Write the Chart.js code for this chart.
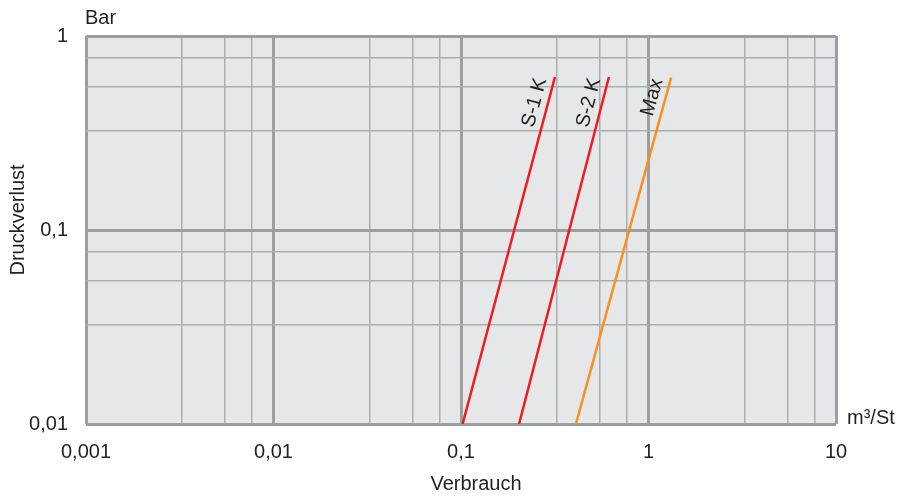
<!DOCTYPE html>
<html lang="de">
<head>
  <meta charset="UTF-8">
  <title>Druckverlust</title>
  <script src="https://cdn.jsdelivr.net/npm/chart.js"></script>
  <style>
    body { margin: 0; padding: 0; background: #fff; }
    #wrap { width: 900px; height: 497px; }
  </style>
</head>
<body>
  <div id="wrap"><canvas id="chart"></canvas></div>
  <script>
    // data (log-log)
    const seriesNames = ['S-1 K', 'S-2 K', 'Max'];
    const flowS1 = [0.102, 0.317];
    const flowS2 = [0.204, 0.615];
    const flowMax = [0.41, 1.32];
    const pressS1 = [0.01, 0.615];
    const pressS2 = [0.01, 0.615];
    const pressMax = [0.01, 0.61];
    const xMajor = [0.001, 0.01, 0.1, 1, 10];
    const yMajor = [0.01, 0.1, 1];
    const minorFactors = [3.25, 5.5, 7.7];

    const FONT = 'Liberation Sans, Arial, sans-serif';
    const SIZE = 20;
    const TEXT = '#231f20';

    function gridTicks(majors) {
      const out = [];
      majors.forEach((m, i) => {
        out.push({ value: m });
        if (i < majors.length - 1) minorFactors.forEach(f => out.push({ value: m * f }));
      });
      return out;
    }
    const isMajor = (list, v) => list.some(m => Math.abs(Math.log10(v) - Math.log10(m)) < 1e-6);
    const fmt = v => String(v).replace('.', ',');

    const toPts = (xs, ys) => xs.map((x, i) => ({ x: x, y: ys[i] }));

    const bgPlugin = {
      id: 'bg',
      beforeDraw(chart) {
        const a = chart.chartArea, ctx = chart.ctx;
        ctx.save();
        ctx.fillStyle = '#e6e7e8';
        ctx.fillRect(a.left, a.top, a.right - a.left, a.bottom - a.top);
        ctx.restore();
      }
    };

    const textPlugin = {
      id: 'texts',
      afterDraw(chart) {
        const ctx = chart.ctx, a = chart.chartArea;
        ctx.save();
        ctx.fillStyle = TEXT;
        ctx.font = SIZE + 'px ' + FONT;
        ctx.textBaseline = 'middle';
        ctx.textAlign = 'left';
        ctx.fillText('Bar', a.left - 1, 18);
        ctx.fillText('m³/St', a.right + 11, a.bottom - 6);
        ctx.textAlign = 'center';
        ctx.fillText('Verbrauch', 476, 484);
        ctx.translate(18, 220);
        ctx.rotate(-Math.PI / 2);
        ctx.fillText('Druckverlust', 0, 0);
        ctx.restore();

        // rotated series labels next to the upper end of each line
        const xs = chart.scales.x, ys = chart.scales.y;
        chart.data.datasets.forEach(ds => {
          const p0 = ds.data[0], p1 = ds.data[ds.data.length - 1];
          const x0 = xs.getPixelForValue(p0.x), y0 = ys.getPixelForValue(p0.y);
          const x1 = xs.getPixelForValue(p1.x), y1 = ys.getPixelForValue(p1.y);
          const len = Math.hypot(x1 - x0, y1 - y0);
          const ux = (x1 - x0) / len, uy = (y1 - y0) / len;
          const nx = uy, ny = -ux;
          const back = 5, side = 13;
          ctx.save();
          ctx.translate(x1 - ux * back + nx * side, y1 - uy * back + ny * side);
          ctx.rotate(Math.atan2(y1 - y0, x1 - x0));
          ctx.fillStyle = TEXT;
          ctx.font = SIZE + 'px ' + FONT;
          ctx.textAlign = 'right';
          ctx.textBaseline = 'middle';
          ctx.fillText(ds.label, 0, 0);
          ctx.restore();
        });
      }
    };

    const gridWidth = (list) => (c) => (c.tick && isMajor(list, c.tick.value)) ? 3 : 1.5;
    const gridColor = (list) => (c) => (c.tick && isMajor(list, c.tick.value)) ? '#9c9ea1' : '#abadb0';

    new Chart(document.getElementById('chart'), {
      type: 'scatter',
      data: {
        datasets: [
          { label: seriesNames[0], data: toPts(flowS1, pressS1), borderColor: '#ed1c24' },
          { label: seriesNames[1], data: toPts(flowS2, pressS2), borderColor: '#ed1c24' },
          { label: seriesNames[2], data: toPts(flowMax, pressMax), borderColor: '#f7901e' }
        ].map(d => Object.assign(d, { showLine: true, pointRadius: 0, borderWidth: 2.5, fill: false }))
      },
      options: {
        responsive: true,
        maintainAspectRatio: false,
        animation: false,
        layout: { padding: { top: 36, right: 64, left: 0, bottom: 0 } },
        plugins: { legend: { display: false }, tooltip: { enabled: false } },
        scales: {
          x: {
            type: 'logarithmic',
            min: 0.001,
            max: 10,
            afterBuildTicks: s => { s.ticks = gridTicks(xMajor); },
            afterFit: s => { s.height = 73; },
            border: { display: false },
            grid: { drawTicks: false, lineWidth: gridWidth(xMajor), color: gridColor(xMajor) },
            ticks: {
              autoSkip: false, maxRotation: 0, padding: 16,
              color: TEXT, font: { family: FONT, size: SIZE },
              callback: v => isMajor(xMajor, v) ? fmt(v) : ''
            }
          },
          y: {
            type: 'logarithmic',
            min: 0.01,
            max: 1,
            afterBuildTicks: s => { s.ticks = gridTicks(yMajor); },
            afterFit: s => { s.width = 86; },
            border: { display: false },
            grid: { drawTicks: false, lineWidth: gridWidth(yMajor), color: gridColor(yMajor) },
            ticks: {
              autoSkip: false, padding: 18,
              color: TEXT, font: { family: FONT, size: SIZE },
              callback: v => isMajor(yMajor, v) ? fmt(v) : ''
            }
          }
        }
      },
      plugins: [bgPlugin, textPlugin]
    });
  </script>
</body>
</html>
